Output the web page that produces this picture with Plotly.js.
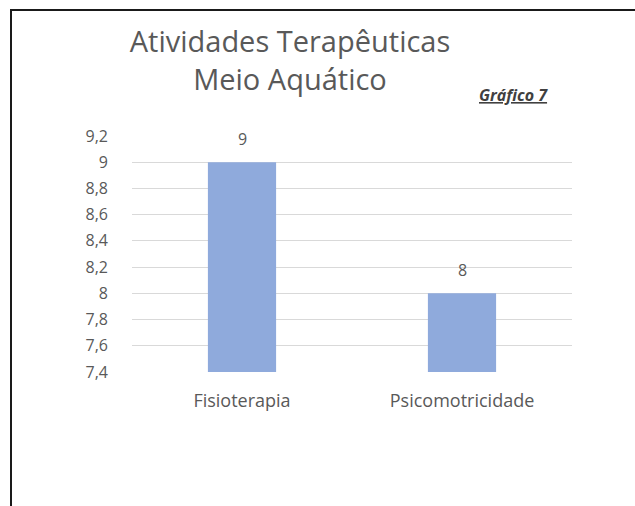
<!DOCTYPE html>
<html>
<head>
<meta charset="utf-8">
<script src="https://cdn.plot.ly/plotly-3.0.1.min.js"></script>
<style>
  html, body { margin: 0; padding: 0; background: #ffffff; }
  #wrap { position: relative; width: 635px; height: 506px; overflow: hidden; }
  #chart { position: absolute; left: 0; top: 0; width: 635px; height: 506px; }
  #frame { position: absolute; left: 10px; top: 9px; width: 640px; height: 520px;
           border-left: 2px solid #1a1a1a; border-top: 2px solid #1a1a1a; pointer-events: none; }
</style>
</head>
<body>
<div id="wrap">
  <div id="chart"></div>
  <div id="frame"></div>
</div>
<script>
const categories = ["Fisioterapia", "Psicomotricidade"];
const values = [9, 8];
const titleLines = ["Atividades Terapêuticas", "Meio Aquático"];
const chartTag = "Gráfico 7";

const FONT = "'Open Sans', 'Noto Sans', sans-serif";
const GREY = "#595959";

const trace = {
  type: "bar",
  x: categories,
  y: values,
  marker: { color: "#8FAADC" },
  hoverinfo: "x+y"
};

const labelAnnotations = categories.map((c, i) => ({
  x: c, y: values[i], xref: "x", yref: "y",
  text: String(values[i]),
  showarrow: false, yanchor: "middle", yshift: 23,
  font: { family: FONT, size: 16, color: GREY }
}));

const layout = {
  width: 635, height: 506,
  margin: { l: 132, r: 63, t: 136, b: 134, pad: 0 },
  paper_bgcolor: "#ffffff",
  plot_bgcolor: "#ffffff",
  separators: ",.",
  showlegend: false,
  bargap: 0.69,
  title: {
    text: titleLines.join("<br>"),
    xref: "container", yref: "container",
    x: 290 / 635, xanchor: "center",
    y: 1 - 52 / 506, yanchor: "top",
    font: { family: FONT, size: 29, color: GREY }
  },
  xaxis: {
    type: "category",
    showgrid: false, zeroline: false, showline: false,
    ticks: "",
    ticklabelstandoff: 16,
    tickfont: { family: FONT, size: 18, color: GREY }
  },
  yaxis: {
    range: [7.4, 9.2],
    dtick: 0.2, tick0: 7.4,
    showgrid: true, gridcolor: "#d9d9d9", gridwidth: 1,
    zeroline: false, showline: false,
    ticks: "",
    ticklabelstandoff: 23,
    tickfont: { family: FONT, size: 16, color: GREY }
  },
  annotations: labelAnnotations.concat([{
    xref: "paper", yref: "paper",
    x: (513 - 132) / 440, y: (372 - 95) / 236,
    xanchor: "center", yanchor: "middle",
    text: "<b><i><u>" + chartTag + "</u></i></b>",
    showarrow: false,
    font: { family: FONT, size: 16, color: "#404040" }
  }])
};

Plotly.newPlot("chart", [trace], layout, { displayModeBar: false, staticPlot: true });
</script>
</body>
</html>
